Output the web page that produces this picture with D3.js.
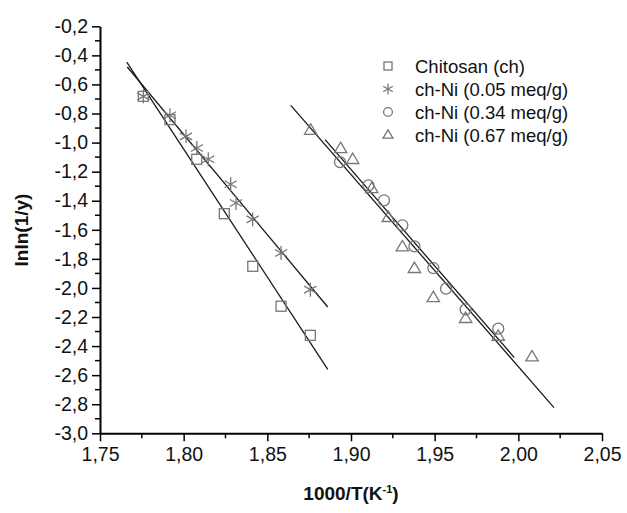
<!DOCTYPE html>
<html>
<head>
<meta charset="utf-8">
<script src="https://cdn.jsdelivr.net/npm/d3@7"></script>
<style>
  html, body { margin: 0; padding: 0; background: #fff; }
  svg { display: block; font-family: "Liberation Sans", Arial, sans-serif; }
</style>
</head>
<body>
<svg id="chart" width="627" height="513"></svg>
<script>
// ---- data ----
const xTicks = [1.75, 1.80, 1.85, 1.90, 1.95, 2.00, 2.05];
const yTicks = [-0.2, -0.4, -0.6, -0.8, -1.0, -1.2, -1.4, -1.6, -1.8, -2.0, -2.2, -2.4, -2.6, -2.8, -3.0];

const seriesNames = ["Chitosan (ch)", "ch-Ni (0.05 meq/g)", "ch-Ni (0.34 meq/g)", "ch-Ni (0.67 meq/g)"];
const seriesSymbols = ["square", "star", "circle", "triangle"];

const chX = [1.7759, 1.7918, 1.8078, 1.8243, 1.8413, 1.8582, 1.8757];
const chY = [-0.682, -0.842, -1.115, -1.489, -1.851, -2.126, -2.326];

const ni05X = [1.7759, 1.7918, 1.8014, 1.8079, 1.8147, 1.8281, 1.8313, 1.8412, 1.8582, 1.8757];
const ni05Y = [-0.682, -0.812, -0.957, -1.037, -1.115, -1.287, -1.416, -1.528, -1.760, -2.012];

const ni34X = [1.8934, 1.9104, 1.9197, 1.9307, 1.9379, 1.9492, 1.9568, 1.9685, 1.9880];
const ni34Y = [-1.134, -1.294, -1.397, -1.569, -1.714, -1.863, -2.005, -2.147, -2.280];

const ni67X = [1.8759, 1.8938, 1.9010, 1.9124, 1.9223, 1.9307, 1.9379, 1.9492, 1.9685, 1.9880, 2.0082];
const ni67Y = [-0.916, -1.042, -1.117, -1.317, -1.516, -1.718, -1.867, -2.067, -2.211, -2.333, -2.475];

// linear fit lines: [x0, y0, x1, y1]
const chFit   = [1.7660, -0.446, 1.8861, -2.560];
const ni05Fit = [1.7663, -0.480, 1.8861, -2.131];
const ni34Fit = [1.8845, -0.980, 1.9976, -2.479];
const ni67Fit = [1.8640, -0.744, 2.0213, -2.823];

// ---- layout ----
const svg = d3.select("#chart");
const x = d3.scaleLinear().domain([1.75, 2.05]).range([100, 602]);
const y = d3.scaleLinear().domain([-0.2, -3.0]).range([26.3, 433.3]);

const fmtX = d => d3.format(".2f")(d).replace(".", ",");
const fmtY = d => d3.format(".1f")(d).replace(".", ",").replace("−", "-");

const markerColor = "#777";
const lineColor = "#1a1a1a";

// fit lines
const fits = [chFit, ni05Fit, ni34Fit, ni67Fit];
svg.append("g").selectAll("line").data(fits).join("line")
  .attr("x1", d => x(d[0])).attr("y1", d => y(d[1]))
  .attr("x2", d => x(d[2])).attr("y2", d => y(d[3]))
  .attr("stroke", lineColor).attr("stroke-width", 1.3);

// marker shapes
function drawMarker(g, sym, cx, cy, scale) {
  const s = scale || 1;
  if (sym === "square") {
    const h = 5 * s;
    g.append("rect").attr("x", cx - h).attr("y", cy - h).attr("width", 2 * h).attr("height", 2 * h)
      .attr("fill", "none").attr("stroke", markerColor).attr("stroke-width", 1.3);
  } else if (sym === "circle") {
    g.append("circle").attr("cx", cx).attr("cy", cy).attr("r", 5.5 * s)
      .attr("fill", "none").attr("stroke", markerColor).attr("stroke-width", 1.3);
  } else if (sym === "triangle") {
    const r = 6.5 * s;
    const pts = [[cx, cy - r], [cx + r * 0.95, cy + r * 0.6], [cx - r * 0.95, cy + r * 0.6]];
    g.append("polygon").attr("points", pts.map(p => p.join(",")).join(" "))
      .attr("fill", "none").attr("stroke", markerColor).attr("stroke-width", 1.3);
  } else if (sym === "star") {
    const r = 7 * s;
    const angs = [90, 30, 150];
    angs.forEach(a => {
      const rad = a * Math.PI / 180;
      g.append("line")
        .attr("x1", cx - r * Math.cos(rad)).attr("y1", cy - r * Math.sin(rad))
        .attr("x2", cx + r * Math.cos(rad)).attr("y2", cy + r * Math.sin(rad))
        .attr("stroke", markerColor).attr("stroke-width", 1.3);
    });
  }
}

const series = [
  { xs: chX, ys: chY, sym: "square" },
  { xs: ni05X, ys: ni05Y, sym: "star" },
  { xs: ni34X, ys: ni34Y, sym: "circle" },
  { xs: ni67X, ys: ni67Y, sym: "triangle" }
];
series.forEach(s => {
  const g = svg.append("g");
  s.xs.forEach((xv, i) => drawMarker(g, s.sym, x(xv), y(s.ys[i])));
});

// axes
const yAxis = d3.axisLeft(y).tickValues(yTicks).tickSize(8).tickSizeOuter(0).tickPadding(4).tickFormat(fmtY);
const xAxis = d3.axisBottom(x).tickValues(xTicks).tickSize(8).tickSizeOuter(0).tickPadding(6).tickFormat(fmtX);

const yMinor = d3.range(0, 14).map(i => -0.3 - 0.2 * i);
const xMinor = d3.range(0, 6).map(i => 1.775 + 0.05 * i);

const gy = svg.append("g").attr("transform", "translate(100,0)").call(yAxis);
gy.append("g").selectAll("line").data(yMinor).join("line")
  .attr("x1", 0).attr("x2", -5).attr("y1", d => y(d)).attr("y2", d => y(d))
  .attr("stroke", "#000").attr("stroke-width", 1.5);

const gx = svg.append("g").attr("transform", "translate(0,433.3)").call(xAxis);
gx.append("g").selectAll("line").data(xMinor).join("line")
  .attr("y1", 0).attr("y2", 5).attr("x1", d => x(d)).attr("x2", d => x(d))
  .attr("stroke", "#000").attr("stroke-width", 1.5);

[gy, gx].forEach(g => {
  g.select(".domain").attr("stroke", "#000").attr("stroke-width", 2);
  g.selectAll(".tick line").attr("stroke", "#000").attr("stroke-width", 1.5);
  g.selectAll(".tick text").attr("fill", "#111").style("font-size", "19.5px")
    .style("font-family", "'Liberation Sans', Arial, sans-serif");
});

// axis titles
svg.append("text")
  .attr("transform", "translate(28,230) rotate(-90)")
  .attr("text-anchor", "middle")
  .style("font-size", "19px").style("font-weight", "bold").attr("fill", "#111")
  .text("lnln(1/y)");

const xt = svg.append("text")
  .attr("x", 351).attr("y", 500)
  .attr("text-anchor", "middle")
  .style("font-size", "19px").style("font-weight", "bold").attr("fill", "#111");
xt.append("tspan").text("1000/T(K");
xt.append("tspan").attr("dy", -7).style("font-size", "11px").text("-1");
xt.append("tspan").attr("dy", 7).text(")");

// legend
const legend = svg.append("g");
seriesNames.forEach((name, i) => {
  const ly = 66 + 23 * i;
  drawMarker(legend, seriesSymbols[i], 388, ly, 0.8);
  legend.append("text").attr("x", 415).attr("y", ly + 6.5)
    .style("font-size", "18.5px").attr("fill", "#111").text(name);
});
</script>
</body>
</html>
